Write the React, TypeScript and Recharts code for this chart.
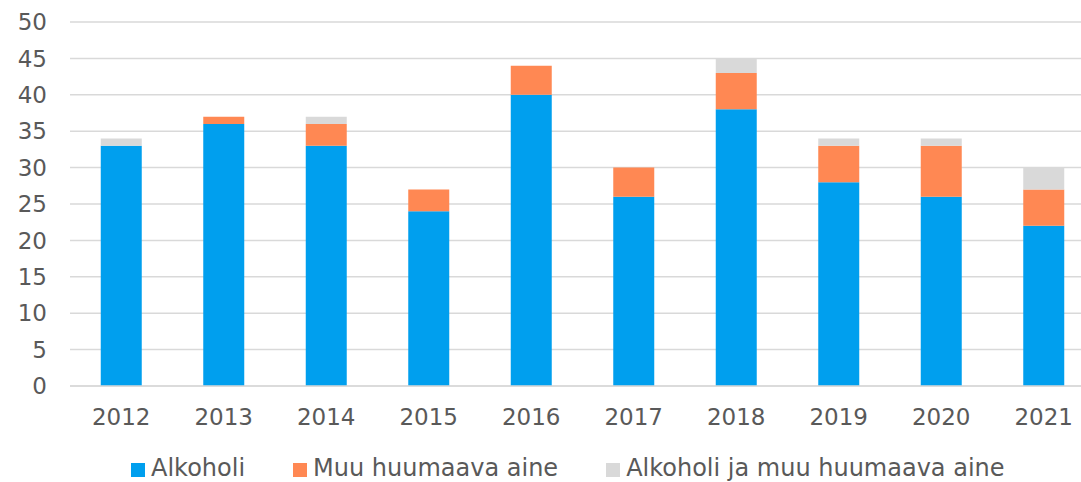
import { BarChart, Bar, XAxis, YAxis, CartesianGrid, Legend } from "recharts";

const years = ["2012", "2013", "2014", "2015", "2016", "2017", "2018", "2019", "2020", "2021"];
const alkoholi = [33, 36, 33, 24, 40, 26, 38, 28, 26, 22];
const muuAine = [0, 1, 3, 3, 4, 4, 5, 5, 7, 5];
const molemmat = [1, 0, 1, 0, 0, 0, 2, 1, 1, 3];
const yTicks = [0, 5, 10, 15, 20, 25, 30, 35, 40, 45, 50];

const series = [
  { key: "alkoholi", name: "Alkoholi", color: "#009fee" },
  { key: "muu", name: "Muu huumaava aine", color: "#ff8853" },
  { key: "molemmat", name: "Alkoholi ja muu huumaava aine", color: "#d9d9d9" },
];

const data = years.map((year, i) => ({
  year,
  alkoholi: alkoholi[i],
  muu: muuAine[i],
  molemmat: molemmat[i],
}));

const font = "Verdana, 'DejaVu Sans', sans-serif";

const LegendContent = () => (
  <div
    style={{
      display: "flex",
      alignItems: "center",
      marginLeft: 131,
      marginTop: 4,
      fontSize: 24,
      fontFamily: font,
      color: "#595959",
      lineHeight: "28px",
    }}
  >
    {series.map((s, i) => (
      <div key={s.key} style={{ display: "flex", alignItems: "center", marginRight: i < 2 ? 48 : 0 }}>
        <span style={{ width: 14, height: 14, background: s.color, marginRight: 6, marginTop: 3 }} />
        <span>{s.name}</span>
      </div>
    ))}
  </div>
);

const App = () => {
  return (
    <div
      style={{
        position: "absolute",
        left: 0,
        top: 0,
        width: 1081,
        height: 482,
        overflow: "hidden",
        fontFamily: font,
      }}
    >
      <BarChart
        width={1095}
        height={482}
        data={data}
        margin={{ top: 22, right: 0, bottom: 0, left: 0 }}
        barCategoryGap="30%"
      >
        <CartesianGrid vertical={false} stroke="#d9d9d9" strokeWidth={1.5} />
        <XAxis
          dataKey="year"
          axisLine={{ stroke: "#d9d9d9", strokeWidth: 1.5 }}
          tickLine={false}
          tickSize={0}
          tickMargin={23}
          height={64}
          tick={{ fill: "#595959", fontSize: 23, fontFamily: font }}
        />
        <YAxis
          domain={[0, 50]}
          ticks={yTicks}
          axisLine={false}
          tickLine={false}
          tickSize={0}
          tickMargin={23}
          width={70}
          tick={{ fill: "#595959", fontSize: 23, fontFamily: font }}
        />
        <Legend verticalAlign="bottom" height={32} content={<LegendContent />} />
        {series.map((s) => (
          <Bar
            key={s.key}
            dataKey={s.key}
            name={s.name}
            stackId="a"
            fill={s.color}
            isAnimationActive={false}
          />
        ))}
      </BarChart>
    </div>
  );
};

export default App;
